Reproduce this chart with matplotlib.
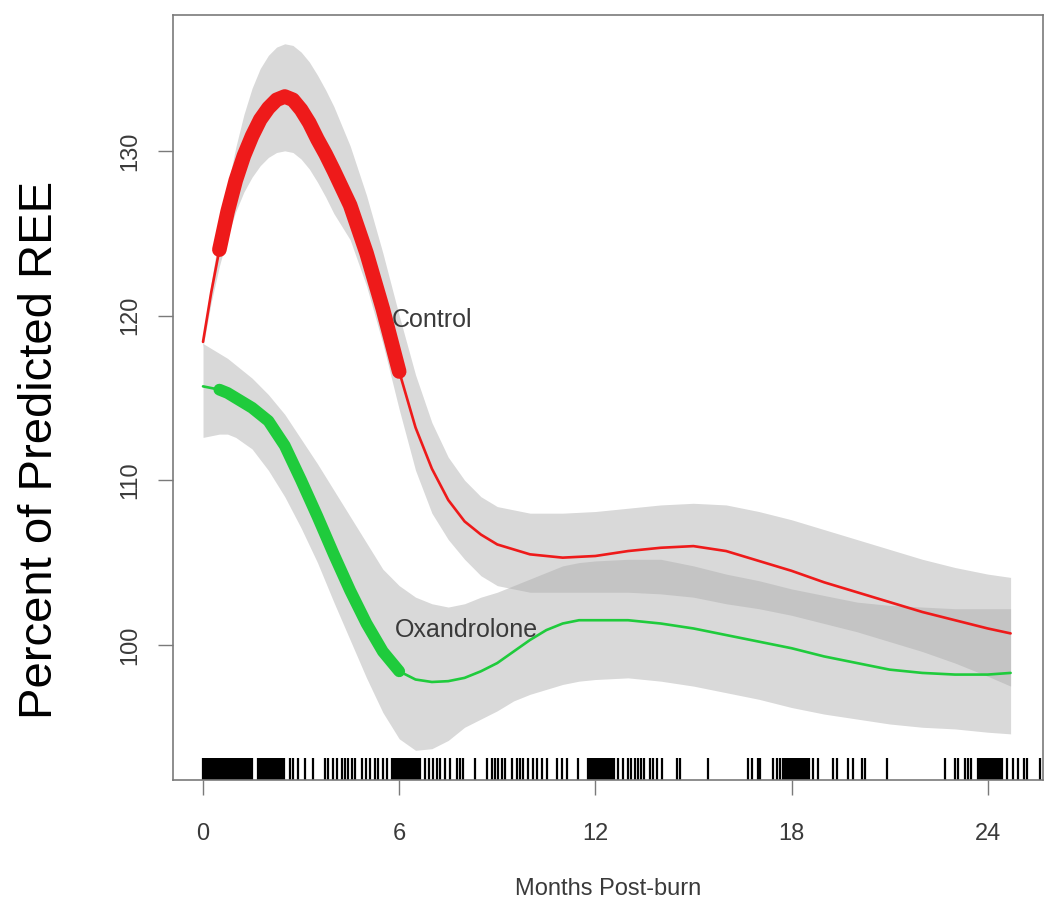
import numpy as np
import matplotlib
matplotlib.use('Agg')
import matplotlib.pyplot as plt
import matplotlib.transforms as mtransforms

plt.rcParams['font.family'] = ['Liberation Sans', 'DejaVu Sans']

# Control (red) fitted curve with its confidence band, months post-burn
ctrl_months = [0, 0.25, 0.5, 0.75, 1, 1.25, 1.5, 1.75, 2, 2.25, 2.5, 2.75, 3, 3.25, 3.5, 3.75,
               4, 4.5, 5, 5.5, 6, 6.5, 7, 7.5, 8, 8.5, 9, 10, 11, 12, 13, 14, 15, 16, 17, 18,
               19, 20, 21, 22, 23, 24, 24.7]
ctrl_mean = [118.4, 121.4, 124.0, 126.3, 128.2, 129.7, 130.9, 131.9, 132.6, 133.1, 133.3, 133.1,
             132.5, 131.7, 130.7, 129.8, 128.8, 126.7, 123.8, 120.4, 116.6, 113.2, 110.7, 108.8,
             107.5, 106.7, 106.1, 105.5, 105.3, 105.4, 105.7, 105.9, 106.0, 105.7, 105.1, 104.5,
             103.8, 103.2, 102.6, 102.0, 101.5, 101.0, 100.7]
ctrl_upper = [118.7, 122.0, 125.0, 127.8, 130.2, 132.2, 133.8, 135.0, 135.8, 136.3, 136.5, 136.4,
              136.0, 135.4, 134.6, 133.7, 132.7, 130.3, 127.3, 123.8, 120.0, 116.4, 113.5, 111.4,
              110.0, 109.0, 108.4, 108.0, 108.0, 108.1, 108.3, 108.5, 108.6, 108.5, 108.1, 107.6,
              107.0, 106.4, 105.8, 105.2, 104.7, 104.3, 104.1]
ctrl_lower = [118.1, 120.8, 123.0, 124.8, 126.3, 127.5, 128.4, 129.1, 129.6, 129.9, 130.0, 129.9,
              129.5, 128.9, 128.1, 127.2, 126.2, 124.6, 121.8, 118.3, 114.3, 110.6, 108.0, 106.4,
              105.2, 104.2, 103.6, 103.2, 103.2, 103.2, 103.2, 103.1, 102.9, 102.5, 102.2, 101.8,
              101.3, 100.8, 100.2, 99.6, 98.9, 98.1, 97.5]

# Oxandrolone (green)
oxa_months = [0, 0.25, 0.5, 0.75, 1, 1.5, 2, 2.5, 3, 3.5, 4, 4.5, 5, 5.5, 6, 6.5, 7, 7.5, 8,
              8.5, 9, 9.5, 10, 10.5, 11, 11.5, 12, 13, 14, 15, 16, 17, 18, 19, 20, 21, 22, 23,
              24, 24.7]
oxa_mean = [115.7, 115.6, 115.5, 115.3, 115.0, 114.4, 113.6, 112.1, 110.0, 107.8, 105.5, 103.3,
            101.3, 99.6, 98.4, 97.9, 97.75, 97.8, 98.0, 98.4, 98.9, 99.6, 100.3, 100.9, 101.3,
            101.5, 101.5, 101.5, 101.3, 101.0, 100.6, 100.2, 99.8, 99.3, 98.9, 98.5, 98.3, 98.2,
            98.2, 98.3]
oxa_upper = [118.3, 118.0, 117.7, 117.4, 117.0, 116.2, 115.2, 114.0, 112.5, 111.0, 109.4, 107.8,
             106.2, 104.6, 103.6, 102.9, 102.5, 102.3, 102.5, 102.9, 103.2, 103.6, 104.0, 104.4,
             104.8, 105.0, 105.1, 105.2, 105.2, 104.8, 104.3, 103.9, 103.4, 103.0, 102.6, 102.4,
             102.3, 102.2, 102.2, 102.2]
oxa_lower = [112.6, 112.7, 112.8, 112.8, 112.6, 111.9, 110.6, 109.0, 107.1, 105.0, 102.6, 100.3,
             98.0, 95.9, 94.3, 93.6, 93.7, 94.2, 95.0, 95.5, 96.0, 96.6, 97.0, 97.3, 97.6, 97.8,
             97.9, 98.0, 97.8, 97.5, 97.1, 96.7, 96.2, 95.8, 95.5, 95.2, 95.0, 94.9, 94.7, 94.6]

# observation times shown as a rug along the bottom
rug_months = [
    0.00, 0.05, 0.10, 0.15, 0.20, 0.25, 0.30, 0.35, 0.40, 0.45, 0.50, 0.55, 0.60, 0.65, 0.70,
    0.75, 0.80, 0.85, 0.90, 0.95, 1.00, 1.05, 1.10, 1.15, 1.20, 1.25, 1.30, 1.35, 1.40, 1.45, 1.50,
    1.68, 1.73, 1.78, 1.83, 1.88, 1.93, 1.98, 2.03, 2.08, 2.13, 2.18, 2.23, 2.28, 2.33, 2.38, 2.43, 2.48,
    2.66, 2.75, 2.90, 3.12, 3.36,
    3.73, 3.82, 3.98, 4.10, 4.25, 4.34, 4.43, 4.56, 4.65,
    4.86, 5.00, 5.10, 5.26, 5.35, 5.50, 5.63,
    5.78, 5.83, 5.88, 5.93, 5.98, 6.03, 6.08, 6.13, 6.18, 6.23, 6.28, 6.33, 6.38, 6.43, 6.48,
    6.53, 6.58, 6.63,
    6.80, 6.90, 7.03, 7.16, 7.25, 7.40, 7.55, 7.77, 7.86, 7.95, 8.32,
    8.70, 8.84, 8.93, 9.02, 9.14, 9.24,
    9.45, 9.60, 9.69, 9.79, 9.94, 10.10, 10.20, 10.37, 10.52, 10.83, 10.98, 11.13, 11.47,
    11.77, 11.82, 11.87, 11.92, 11.97, 12.02, 12.07, 12.12, 12.17, 12.22, 12.27, 12.32, 12.37,
    12.42, 12.47, 12.52, 12.57,
    12.70, 12.84, 13.00, 13.10, 13.20, 13.30, 13.40, 13.50, 13.67, 13.76, 13.90, 14.04, 14.50,
    14.59, 15.44,
    16.67, 16.79, 16.97, 17.03, 17.43, 17.55, 17.65,
    17.74, 17.79, 17.84, 17.89, 17.94, 17.99, 18.04, 18.09, 18.14, 18.19, 18.24, 18.29, 18.34,
    18.39, 18.44, 18.49, 18.54,
    18.65, 18.81, 19.27, 19.39, 19.72, 19.88, 20.15, 20.25, 20.92,
    22.69, 23.00, 23.09, 23.30, 23.40, 23.50,
    23.70, 23.75, 23.80, 23.85, 23.90, 23.95, 24.00, 24.05, 24.10, 24.15, 24.20, 24.25, 24.30,
    24.35, 24.40, 24.45,
    24.60, 24.77, 24.94, 25.10, 25.20, 25.60]

# stretch of the curve drawn heavy (treatment period)
thick_start = 0.5
thick_end = 6.0

x_ticks = [0, 6, 12, 18, 24]
y_ticks = [100, 110, 120, 130]

red = '#ee1a1a'
green = '#1fcb3c'
band = (0.67, 0.67, 0.67, 0.45)
axis_grey = '#7a7a7a'
text_col = '#3a3a3a'

fig = plt.figure(figsize=(10.5, 9.13), dpi=100)
ax = fig.add_axes([0.1648, 0.1457, 0.8285, 0.8379])

ax.fill_between(ctrl_months, ctrl_lower, ctrl_upper, color=band, linewidth=0)
ax.fill_between(oxa_months, oxa_lower, oxa_upper, color=band, linewidth=0)

cm = np.array(ctrl_months)
om = np.array(oxa_months)
ax.plot(cm, ctrl_mean, color=red, lw=1.9, solid_capstyle='round')
ax.plot(om, oxa_mean, color=green, lw=1.9, solid_capstyle='round')
sel = (cm >= thick_start) & (cm <= thick_end)
ax.plot(cm[sel], np.array(ctrl_mean)[sel], color=red, lw=10.5, solid_capstyle='round')
sel = (om >= thick_start) & (om <= thick_end)
ax.plot(om[sel], np.array(oxa_mean)[sel], color=green, lw=8.5, solid_capstyle='round')

# rug of observation times, glued to the bottom of the box
trans = mtransforms.blended_transform_factory(ax.transData, ax.transAxes)
ax.vlines(rug_months, 0, 0.029, transform=trans, color='black', lw=1.6)

ax.text(5.78, 119.7, 'Control', fontsize=18, color=text_col, ha='left', va='center')
ax.text(5.87, 100.9, 'Oxandrolone', fontsize=18, color=text_col, ha='left', va='center')

ax.set_xlim(-0.917, 25.69)
ax.set_ylim(91.8, 138.25)
ax.set_xticks(x_ticks)
ax.set_yticks(y_ticks)
ax.tick_params(axis='both', direction='out', length=11, width=1.0, color=axis_grey,
               labelsize=17, labelcolor=text_col)
ax.tick_params(axis='x', pad=20)
ax.tick_params(axis='y', pad=12)
for lab in ax.get_yticklabels():
    lab.set_rotation(90)
    lab.set_va('center')
for sp in ax.spines.values():
    sp.set_color(axis_grey)
    sp.set_linewidth(1.2)

ax.set_xlabel('Months Post-burn', fontsize=17, color=text_col, labelpad=24)
fig.text(0.038, 0.507, 'Percent of Predicted REE', rotation=90, fontsize=34,
         color='black', ha='center', va='center')

fig.savefig('out.png', dpi=100)
